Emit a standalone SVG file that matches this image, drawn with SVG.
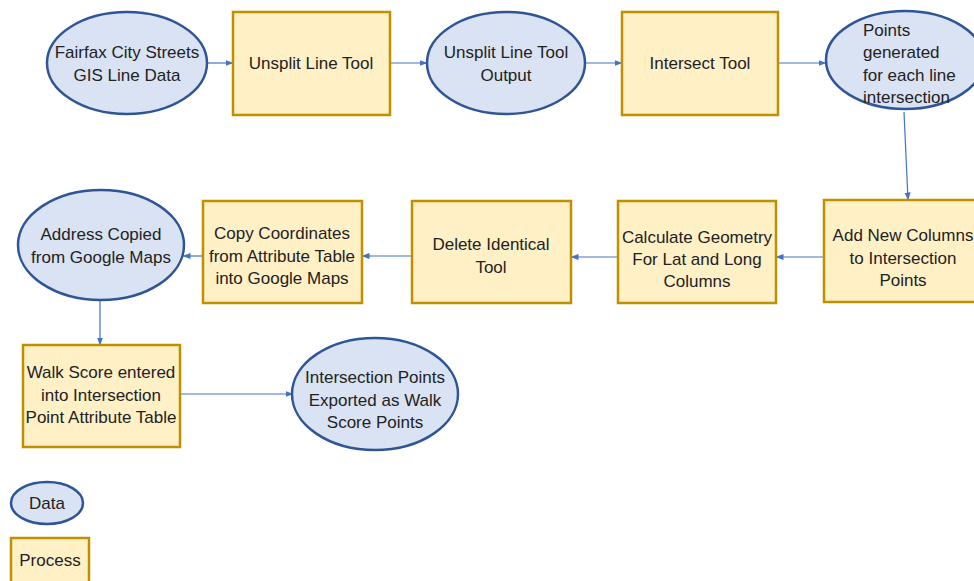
<svg xmlns="http://www.w3.org/2000/svg" width="974" height="581" viewBox="0 0 974 581">
  <defs>
    <marker id="arrow" viewBox="0 0 8 8" refX="7.5" refY="4" markerWidth="8" markerHeight="8" markerUnits="userSpaceOnUse" orient="auto">
      <path d="M0,1 L8,4 L0,7 Z" fill="#4472c4"/>
    </marker>
  </defs>
  <style>
    .data { fill: #dae3f3; stroke: #2f5597; stroke-width: 2.5; }
    .proc { fill: #fff0c6; stroke: #bf9000; stroke-width: 2.5; }
    .lbl { font-family: "Liberation Sans", Arial, sans-serif; font-size: 17px; fill: #222222; text-anchor: middle; dominant-baseline: central; }
    .left { text-anchor: start; }
    .conn { fill: none; stroke: #4472c4; stroke-width: 1.2; marker-end: url(#arrow); }
  </style>
  <rect width="974" height="581" fill="#ffffff"/>

  <g id="connectors">
    <line class="conn" x1="207" y1="63" x2="233" y2="63"/>
    <line class="conn" x1="390" y1="63" x2="427" y2="63"/>
    <line class="conn" x1="585" y1="63" x2="622" y2="63"/>
    <line class="conn" x1="778" y1="63" x2="826" y2="63"/>
    <line class="conn" x1="904" y1="112" x2="908" y2="200"/>
    <line class="conn" x1="824" y1="257" x2="776" y2="257"/>
    <line class="conn" x1="618" y1="257" x2="571" y2="257"/>
    <line class="conn" x1="412" y1="256" x2="362" y2="256"/>
    <line class="conn" x1="203" y1="256" x2="183" y2="256"/>
    <line class="conn" x1="100" y1="300" x2="100" y2="345"/>
    <line class="conn" x1="180" y1="394" x2="293" y2="394"/>
  </g>

  <g id="fairfax-streets">
    <ellipse class="data" cx="127" cy="63" rx="80" ry="51"/>
    <text class="lbl" x="127" y="52">Fairfax City Streets</text>
    <text class="lbl" x="127" y="75">GIS Line Data</text>
  </g>

  <g id="unsplit-tool">
    <rect class="proc" x="233" y="12" width="157" height="103"/>
    <text class="lbl" x="311" y="63">Unsplit Line Tool</text>
  </g>

  <g id="unsplit-output">
    <ellipse class="data" cx="506" cy="63" rx="79" ry="51"/>
    <text class="lbl" x="506" y="52">Unsplit Line Tool</text>
    <text class="lbl" x="506" y="75">Output</text>
  </g>

  <g id="intersect-tool">
    <rect class="proc" x="622" y="12" width="156" height="103"/>
    <text class="lbl" x="700" y="63">Intersect Tool</text>
  </g>

  <g id="intersection-points">
    <ellipse class="data" cx="905" cy="60" rx="79" ry="49"/>
    <text class="lbl left" x="863" y="30">Points</text>
    <text class="lbl left" x="863" y="52">generated</text>
    <text class="lbl left" x="863" y="75">for each line</text>
    <text class="lbl left" x="863" y="97">intersection</text>
  </g>

  <g id="add-columns">
    <rect class="proc" x="824" y="200" width="160" height="102"/>
    <text class="lbl" x="903" y="235">Add New Columns</text>
    <text class="lbl" x="903" y="258">to Intersection</text>
    <text class="lbl" x="903" y="280">Points</text>
  </g>

  <g id="calculate-geometry">
    <rect class="proc" x="618" y="201" width="158" height="102"/>
    <text class="lbl" x="697" y="237">Calculate Geometry</text>
    <text class="lbl" x="697" y="259">For Lat and Long</text>
    <text class="lbl" x="697" y="281">Columns</text>
  </g>

  <g id="delete-identical">
    <rect class="proc" x="412" y="201" width="159" height="102"/>
    <text class="lbl" x="491" y="244">Delete Identical</text>
    <text class="lbl" x="491" y="267">Tool</text>
  </g>

  <g id="copy-coordinates">
    <rect class="proc" x="203" y="201" width="159" height="102"/>
    <text class="lbl" x="282" y="233">Copy Coordinates</text>
    <text class="lbl" x="282" y="256">from Attribute Table</text>
    <text class="lbl" x="282" y="278">into Google Maps</text>
  </g>

  <g id="address-copied">
    <ellipse class="data" cx="101" cy="245" rx="83" ry="55"/>
    <text class="lbl" x="101" y="234">Address Copied</text>
    <text class="lbl" x="101" y="257">from Google Maps</text>
  </g>

  <g id="walk-score-entered">
    <rect class="proc" x="23" y="345" width="157" height="102"/>
    <text class="lbl" x="101" y="372">Walk Score entered</text>
    <text class="lbl" x="101" y="395">into Intersection</text>
    <text class="lbl" x="101" y="417">Point Attribute Table</text>
  </g>

  <g id="walk-score-points">
    <ellipse class="data" cx="375" cy="394" rx="83" ry="56"/>
    <text class="lbl" x="375" y="377">Intersection Points</text>
    <text class="lbl" x="375" y="400">Exported as Walk</text>
    <text class="lbl" x="375" y="422">Score Points</text>
  </g>

  <g id="legend-data">
    <ellipse class="data" cx="47" cy="503" rx="36" ry="21"/>
    <text class="lbl" x="47" y="503">Data</text>
  </g>

  <g id="legend-process">
    <rect class="proc" x="11" y="538" width="78" height="50"/>
    <text class="lbl" x="50" y="560">Process</text>
  </g>
</svg>
